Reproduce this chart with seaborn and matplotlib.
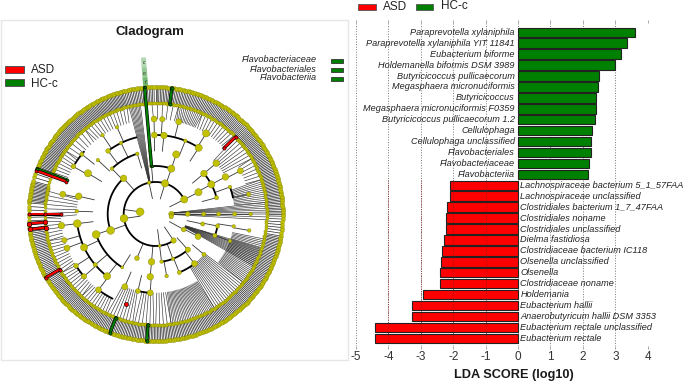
import numpy as np
import pandas as pd
import matplotlib
matplotlib.use('Agg')
import matplotlib.pyplot as plt
import seaborn as sns
from matplotlib.patches import Rectangle

sns.set_theme(style='white')
plt.rcParams['font.family'] = ['Liberation Sans', 'DejaVu Sans']
plt.rcParams['axes.unicode_minus'] = False

# --- bar panel values
green_names = ['Paraprevotella xylaniphila', 'Paraprevotella xylaniphila YIT 11841', 'Eubacterium biforme',
               'Holdemanella biformis DSM 3989', 'Butyricicoccus pullicaecorum', 'Megasphaera micronuciformis',
               'Butyricicoccus', 'Megasphaera micronuciformis F0359', 'Butyricicoccus pullicaecorum 1.2',
               'Cellulophaga', 'Cellulophaga unclassified', 'Flavobacteriales', 'Flavobacteriaceae', 'Flavobacteriia']
green_scores = [3.61, 3.35, 3.19, 2.98, 2.49, 2.46, 2.41, 2.39, 2.36, 2.28, 2.24, 2.24, 2.20, 2.16]
red_names = ['Lachnospiraceae bacterium 5_1_57FAA', 'Lachnospiraceae unclassified', 'Clostridiales bacterium 1_7_47FAA',
             'Clostridiales noname', 'Clostridiales unclassified', 'Dielma fastidiosa', 'Clostridiaceae bacterium IC118',
             'Olsenella unclassified', 'Olsenella', 'Clostridiaceae noname', 'Holdemania', 'Eubacterium hallii',
             'Anaerobutyricum hallii DSM 3353', 'Eubacterium rectale unclassified', 'Eubacterium rectale']
red_scores = [-2.10, -2.10, -2.20, -2.21, -2.21, -2.30, -2.35, -2.39, -2.40, -2.42, -2.92, -3.26, -3.26, -4.41, -4.41]
x_ticks = [-5, -4, -3, -2, -1, 0, 1, 2, 3, 4]

# --- cladogram: angles are degrees clockwise from the top, one list per ring
ring_radius = [15.7, 32, 48, 63, 79, 95, 111, 127]
nodes_0 = [278, 90, 94, 100]
sizes_0 = [6.5, 4.5, 3.5, 3.5]
nodes_1 = [348, 17, 63, 90, 119, 146, 173, 262]
sizes_1 = [3, 6, 6, 4, 4, 4.5, 2.5, 6.5]
nodes_2 = [19, 318, 355, 250, 63, 90, 102, 118, 138, 159, 173, 185, 203]
sizes_2 = [6, 5.5, 3, 6.5, 6, 3.5, 3.5, 5, 4.5, 3, 3, 5.5, 4]
nodes_3 = [19, 355, 343, 316, 251, 50, 62, 75, 90, 101, 110, 130, 142, 158, 170, 185, 212]
sizes_3 = [6, 3, 3, 3, 6.5, 5.5, 6, 3.5, 3.5, 3.5, 3.5, 3.5, 5, 3.5, 3, 5.5, 2.5]
nodes_4 = [359, 6, 22, 33, 50, 62, 70, 90, 99, 110, 263, 245, 230, 218, 203, 193, 184, 334, 323, 313, 301, 283, 272]
sizes_4 = [5, 5.5, 3, 6, 5.5, 5.5, 3, 3.5, 3, 3, 6.5, 6, 3.5, 6, 5, 4, 5, 3, 4, 3, 6, 5.5, 3]
nodes_5 = [359, 4, 14, 32, 63, 78, 90, 100, 282, 263, 254, 249, 237, 229, 217, 300, 309, 336, 326]
sizes_5 = [5, 4.5, 5, 6, 5, 3.5, 3, 3, 5, 5.5, 4.5, 5, 4, 4.5, 5, 4, 3.5, 3, 3]

# sectors of the outer two rings: start, end, number of leaves
sector_start = [0, 30, 48, 85, 91, 100, 150, 185, 235, 262, 275, 285, 292, 345]
sector_end = [30, 48, 85, 91, 100, 150, 185, 235, 262, 275, 285, 292, 345, 360]
sector_leaves = [40, 24, 52, 8, 7, 70, 48, 68, 34, 8, 15, 4, 80, 20]

# fans of spokes: hub ring and angle, then span and number of tips on ring 6
fan_ring = [0, 0, 1, 4, 3, 4, 4, 4, 4, 5, 5, 5, 5, 4, 5, 5, 5, 1, 5, 5, 5, 4, 5, 4]
fan_angle = [90, 94, 119, 110, 142, 165, 178, 184, 203, 217, 229, 245, 258, 276, 300, 312, 330, 348, 4, 14, 32, 50, 63, 70]
fan_start = [84, 90, 108, 103, 128, 148, 172, 181, 192, 207, 222, 238, 256, 268, 292, 305, 320, 346, 358, 12, 25, 46, 60, 72]
fan_end = [89, 93, 118, 128, 148, 172, 180, 191, 206, 222, 238, 256, 268, 282, 305, 320, 345, 352, 372, 25, 45, 60, 72, 84]
fan_tips = [6, 3, 12, 28, 16, 28, 5, 6, 9, 10, 10, 11, 7, 7, 8, 7, 14, 9, 6, 14, 12, 8, 7, 12]
# how far the spokes stay apart at the hub end (1 = parallel, 0 = one point)
fan_spread = [0.1, 0.1, 0.3, 0.95, 0.9, 0.95, 0.8, 0.8, 0.8, 0.9, 0.9, 0.9, 0.9, 0.8, 0.9, 0.9, 0.9, 0.3, 0.9, 0.9, 0.9, 0.8, 0.9, 0.9]

# thick arcs: ring, start, end
arc_ring = [1, 2, 2, 2, 3, 3, 3, 3, 3, 4, 4, 4, 4, 4, 5, 5, 5]
arc_start = [146, 250, 355, 138, 212, 316, 50, 103, 142, 218, 323, 359, 70, 184, 302, 207, 229]
arc_end = [423, 318, 380, 173, 251, 343, 75, 110, 158, 263, 346, 393, 78, 193, 311, 215, 237]

# coloured clades: colour, first ring, last ring, angle, end node size
clade_color = ['green', 'green', 'green', 'green', 'green', 'red', 'red', 'red', 'red', 'red']
clade_first = [2, 6, 6, 6, 5, 5, 5, 6, 6, 6]
clade_last = [7, 7, 7, 7, 7, 7, 6, 7, 7, 7]
clade_angle = [355, 7.3, 201, 184, 290.9, 290, 46, 265.7, 263, 240]
clade_node = [2.5, 3.2, 3.2, 3.2, 3, 3, 3.2, 4.6, 4.6, 3.2]
clade_label = ['c', 'o', 'f']
clade_label_r = [152, 141, 132]
clade_shade = [0.3, 0.42, 0.55]
clade_shade_r = [157, 147, 137, 127]
red_fan_ring = [5, 6, 7]
red_fan_angle = [270, 270, 270]
lone_red_angle = 198

legend_names = ['ASD', 'HC-c']
legend_colors = ['red', 'green']
flavo_names = ['Flavobacteriaceae', 'Flavobacteriales', 'Flavobacteriia']

W, H = 685, 383
cx, cy = 155.7, 214
node_col = '#c2c200'
node_edge = '#77770a'


def polar(r, a):
    a = np.radians(a)
    return cx + r * np.sin(a), cy - r * np.cos(a)


def pt(px):
    return px * 0.72


fig = plt.figure(figsize=(W / 100, H / 100), dpi=100)

# left panel uses picture pixels as its units
ax = fig.add_axes([0, 0, 1, 1])
ax.set_xlim(0, W)
ax.set_ylim(H, 0)
ax.axis('off')
ax.add_patch(Rectangle((1, 20), 347, 340, fill=False, edgecolor='#e6e6e6', lw=1))

# spokes of the listed nodes down to the ring below
rings = [(nodes_0, sizes_0), (nodes_1, sizes_1), (nodes_2, sizes_2), (nodes_3, sizes_3),
         (nodes_4, sizes_4), (nodes_5, sizes_5)]
for lev, (angs, _) in enumerate(rings):
    if lev == 0:
        continue
    for a in angs:
        x0, y0 = polar(ring_radius[lev - 1], a)
        x1, y1 = polar(ring_radius[lev], a)
        ax.plot([x0, x1], [y0, y1], color='#333333', lw=0.6, zorder=2)
x0, y0 = polar(ring_radius[1], 278)
x1, y1 = polar(ring_radius[0], 278)
ax.plot([x0, x1], [y0, y1], color='#333333', lw=0.6, zorder=2)

# fans towards ring 6
for r, a, s, e, n, k in zip(fan_ring, fan_angle, fan_start, fan_end, fan_tips, fan_spread):
    mid = (s + e) / 2
    for t in np.linspace(s, e, n):
        hx, hy = polar(ring_radius[r], mid + k * (t - mid))
        tx, ty = polar(ring_radius[6], t)
        ax.plot([hx, tx], [hy, ty], color='#333333', lw=0.45, zorder=2)

# outer band
leaves = []
for s, e, n in zip(sector_start, sector_end, sector_leaves):
    leaves.extend(np.linspace(s, e, n, endpoint=False))
leaves = np.array(leaves)
for a in leaves:
    x0, y0 = polar(ring_radius[6], a)
    x1, y1 = polar(ring_radius[7], a)
    ax.plot([x0, x1], [y0, y1], color='#222222', lw=0.5, zorder=2)

# thick arcs
for r, s, e in zip(arc_ring, arc_start, arc_end):
    t = np.linspace(s, e, 80)
    x, y = polar(ring_radius[r], t)
    ax.plot(x, y, color='black', lw=1.3, zorder=3, solid_capstyle='round')

# shaded clade above the rim
for i in range(3):
    x0, y0 = polar(clade_shade_r[i], clade_angle[0] + 0.5)
    x1, y1 = polar(clade_shade_r[i + 1], clade_angle[0] + 0.5)
    ax.plot([x0, x1], [y0, y1], color='green', alpha=clade_shade[i], lw=pt(5), solid_capstyle='butt', zorder=1)
for lab, r in zip(clade_label, clade_label_r):
    x0, y0 = polar(r, clade_angle[0] + 0.5)
    ax.text(x0, y0, lab, fontsize=3.5, style='italic', ha='center', va='center', color='#222222', zorder=6)

# nodes
for lev, (angs, sz) in enumerate(rings):
    x, y = polar(ring_radius[lev], np.array(angs))
    ax.scatter(x, y, s=pt(np.array(sz) * 1.2) ** 2, color=node_col, edgecolor=node_edge, linewidth=0.25, zorder=4)
x, y = polar(ring_radius[6], leaves)
ax.scatter(x, y, s=pt(3.2) ** 2, color=node_col, edgecolor=node_edge, linewidth=0.2, zorder=4)
x, y = polar(ring_radius[7], leaves)
ax.scatter(x, y, s=pt(4) ** 2, color=node_col, edgecolor=node_edge, linewidth=0.2, zorder=4)

# coloured clades
for col, f, l, a, sz in zip(clade_color, clade_first, clade_last, clade_angle, clade_node):
    x0, y0 = polar(ring_radius[f], a)
    x1, y1 = polar(ring_radius[l], a)
    ax.plot([x0, x1], [y0, y1], color='black', lw=2.4, zorder=5, solid_capstyle='round')
    ax.plot([x0, x1], [y0, y1], color=col, lw=1.5, zorder=5, solid_capstyle='round')
    ax.scatter([x0, x1], [y0, y1], s=pt(sz) ** 2, color=col, edgecolor='black', linewidth=0.4, zorder=6)
x0, y0 = polar(ring_radius[5], red_fan_angle[0])
x1, y1 = polar(ring_radius[7], red_fan_angle[0])
ax.plot([x0, x1], [y0, y1], color='black', lw=2.2, zorder=5)
ax.plot([x0, x1], [y0, y1], color='red', lw=1.3, zorder=5)
for r, a in zip(red_fan_ring, red_fan_angle):
    x0, y0 = polar(ring_radius[r], a)
    ax.scatter([x0], [y0], s=pt(3.2) ** 2, color='red', edgecolor='black', linewidth=0.4, zorder=6)
x0, y0 = polar(ring_radius[5], lone_red_angle)
ax.scatter([x0], [y0], s=pt(4.2) ** 2, color='red', edgecolor='black', linewidth=0.4, zorder=6)

ax.text(150, 32, 'Cladogram', fontsize=9.5, fontweight='bold', ha='center', va='center', color='#1a1a1a')
for i, (n, c) in enumerate(zip(legend_names, legend_colors)):
    ax.add_patch(Rectangle((5, 66 + 13 * i), 19, 7, facecolor=c, edgecolor='#555555', lw=0.7))
    ax.text(31, 70 + 14 * i, n, fontsize=8.5, va='center', ha='left', color='#222222')
for i, n in enumerate(flavo_names):
    yy = [60, 69, 78][i]
    ax.text(317, yy, n, fontsize=6.6, style='italic', ha='right', va='center', color='#222222')
    ax.add_patch(Rectangle((331, yy - 1.5), 12, 4.5, facecolor='green', edgecolor='#333333', lw=0.6))

# top legend of the bar panel
ax.add_patch(Rectangle((358, 4), 18, 6, facecolor='red', edgecolor='#555555', lw=0.6))
ax.text(383, 7, 'ASD', fontsize=8.5, va='center', color='#222222')
ax.add_patch(Rectangle((416, 4), 17, 6, facecolor='green', edgecolor='#555555', lw=0.6))
ax.text(441, 6, 'HC-c', fontsize=8.5, va='center', color='#222222')

# bar panel
df = pd.DataFrame({'taxon': green_names + red_names,
                   'score': green_scores + red_scores,
                   'group': ['HC-c'] * len(green_names) + ['ASD'] * len(red_names)})
bx = fig.add_axes([356 / W, 1 - 345.7 / H, (647.7 - 356) / W, (345.7 - 22.7) / H])
bx.patch.set_alpha(0)
bx.grid(False)
for t in x_ticks:
    bx.axvline(t, color='#777777', ls=':', lw=0.7, zorder=0)
sns.barplot(data=df, y='taxon', x='score', hue='group', hue_order=['ASD', 'HC-c'],
            palette={'ASD': 'red', 'HC-c': 'green'}, dodge=False, width=0.87, saturation=1,
            edgecolor='#222222', linewidth=0.8, legend=False, zorder=2, ax=bx)
# the dotted lines show through the red bars
bx.vlines([-4, -3, -2, -1], 14 - 0.45, 28.45, color='#8a1515', ls=':', lw=0.6, zorder=3)
bx.set_xlim(-5, 4)
bx.set_ylim(28.68, -0.88)
bx.set_xticks(x_ticks)
bx.set_yticks([])
bx.set_xlabel('LDA SCORE (log10)', fontsize=9.2, fontweight='bold', color='#1a1a1a')
bx.xaxis.set_label_coords((514 - 356) / (647.7 - 356), -(369 - 345.7) / (345.7 - 22.7), transform=bx.transAxes)
bx.set_ylabel('')
bx.tick_params(axis='x', bottom=True, top=True, length=2, width=0.6, color='#999999',
               labelsize=8.5, labelcolor='#333333', pad=2)
for s in bx.spines.values():
    s.set_visible(False)
for i, (name, val) in enumerate(zip(df['taxon'], df['score'])):
    if val > 0:
        bx.text(-0.1, i, name, fontsize=6.6, style='italic', ha='right', va='center', color='#222222', zorder=5)
    else:
        bx.text(0.07, i, name, fontsize=6.6, style='italic', ha='left', va='center', color='#222222',
                clip_on=False, zorder=5)

fig.savefig('out.png', dpi=100)
